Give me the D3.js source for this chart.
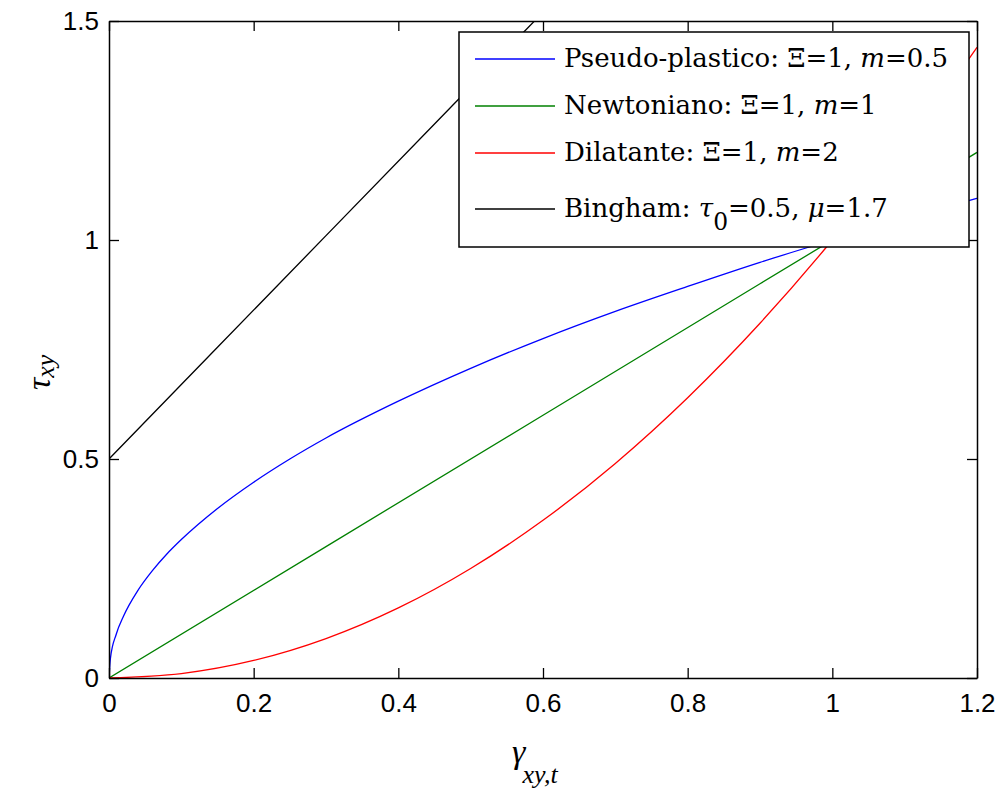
<!DOCTYPE html>
<html>
<head>
<meta charset="utf-8">
<script src="https://cdn.jsdelivr.net/npm/d3@7"></script>
<style>
  body { margin: 0; background: #fff; }
  svg { display: block; }
  .tick-label { font-family: "Liberation Sans", Arial, sans-serif; font-size: 26px; fill: #000; }
  .legend-text { font-family: "DejaVu Serif", "Liberation Serif", serif; font-size: 22px; fill: #000; }
  .axis-title { font-family: "Liberation Serif", "DejaVu Serif", serif; font-style: italic; fill: #000; }
</style>
</head>
<body>
<div id="chart"></div>
<script>
// strain rate samples (x) and stress (y)
const pseudoX = [0, 0.002, 0.01, 0.02, 0.04, 0.06, 0.08, 0.1, 0.15, 0.2, 0.25, 0.3, 0.4, 0.5, 0.6, 0.7, 0.8, 0.9, 1.0, 1.1, 1.2];
const pseudoY = [0, 0.045, 0.1, 0.141, 0.2, 0.245, 0.283, 0.316, 0.387, 0.447, 0.5, 0.548, 0.632, 0.707, 0.775, 0.837, 0.894, 0.949, 1.0, 1.049, 1.095];

const newtonX = [0, 0.6, 1.2];
const newtonY = [0, 0.6, 1.2];

const dilatX = [0, 0.1, 0.2, 0.3, 0.4, 0.5, 0.6, 0.7, 0.8, 0.9, 1.0, 1.1, 1.2];
const dilatY = [0, 0.01, 0.04, 0.09, 0.16, 0.25, 0.36, 0.49, 0.64, 0.81, 1.0, 1.21, 1.44];

const binghamX = [0, 0.3, 0.6, 1.2];
const binghamY = [0.5, 1.01, 1.52, 2.54];

const xTicks = [0, 0.2, 0.4, 0.6, 0.8, 1, 1.2];
const yTicks = [0, 0.5, 1, 1.5];

const seriesColors = ['#0000ff', '#008000', '#ff0000', '#000000'];

const width = 999, height = 791;
const margins = { left: 109, right: 22, top: 21, bottom: 113 };

const svg = d3.select('#chart')
  .append('svg')
    .attr('width', width)
    .attr('height', height);

const xScale = d3.scaleLinear()
  .domain([0, 1.2])
  .range([margins.left, width - margins.right]);

const yScale = d3.scaleLinear()
  .domain([0, 1.5])
  .range([height - margins.bottom, margins.top]);

const x0 = xScale(0), x1 = xScale(1.2), y0 = yScale(0), y1 = yScale(1.5);

svg.append('clipPath')
    .attr('id', 'plot-clip')
  .append('rect')
    .attr('x', x0)
    .attr('y', y1)
    .attr('width', x1 - x0)
    .attr('height', y0 - y1);

// curves
const series = [
  { xs: pseudoX, ys: pseudoY },
  { xs: newtonX, ys: newtonY },
  { xs: dilatX, ys: dilatY },
  { xs: binghamX, ys: binghamY },
];

const line = d3.line()
  .x(d => xScale(d[0]))
  .y(d => yScale(d[1]))
  .curve(d3.curveMonotoneX);

const plot = svg.append('g').attr('clip-path', 'url(#plot-clip)');

plot.selectAll('.curve')
    .data(series)
  .enter()
  .append('path')
    .attr('class', 'curve')
    .attr('fill', 'none')
    .attr('stroke', (d, i) => seriesColors[i])
    .attr('stroke-width', 1.3)
    .attr('d', d => line(d.xs.map((x, j) => [x, d.ys[j]])));

// axes box with inward ticks on all four sides (matlab style)
const tickLen = 10;

svg.append('g')
    .attr('transform', 'translate(0,' + y0 + ')')
    .call(d3.axisBottom(xScale).tickValues(xTicks).tickSizeInner(-tickLen).tickSizeOuter(0).tickPadding(16).tickFormat(d3.format('')))
    .call(g => g.selectAll('text').attr('class', 'tick-label').attr('font-size', null).attr('font-family', null));

svg.append('g')
    .attr('transform', 'translate(0,' + y1 + ')')
    .call(d3.axisTop(xScale).tickValues(xTicks).tickSizeInner(-tickLen).tickSizeOuter(0).tickFormat(''));

svg.append('g')
    .attr('transform', 'translate(' + x0 + ',0)')
    .call(d3.axisLeft(yScale).tickValues(yTicks).tickSizeInner(-tickLen).tickSizeOuter(0).tickPadding(10).tickFormat(d3.format('')))
    .call(g => g.selectAll('text').attr('class', 'tick-label').attr('font-size', null).attr('font-family', null));

svg.append('g')
    .attr('transform', 'translate(' + x1 + ',0)')
    .call(d3.axisRight(yScale).tickValues(yTicks).tickSizeInner(-tickLen).tickSizeOuter(0).tickFormat(''));

svg.selectAll('.domain').attr('stroke', '#000').attr('stroke-width', 1.5);
svg.selectAll('.tick line').attr('stroke', '#000').attr('stroke-width', 1.3);

// axis titles
const xt = svg.append('text')
    .attr('class', 'axis-title')
    .attr('x', 512)
    .attr('y', 763);
xt.append('tspan').attr('font-size', 34).text('γ');
xt.append('tspan').attr('font-size', 26).attr('dx', -3).attr('dy', 20).text('xy,t');

const yt = svg.append('text')
    .attr('class', 'axis-title')
    .attr('transform', 'translate(50,390) rotate(-90)');
yt.append('tspan').attr('font-size', 34).text('τ');
yt.append('tspan').attr('font-size', 26).attr('dy', 4).text('xy');

// legend
const legendX = 459, legendY = 32, legendW = 510, legendH = 215;

const legend = svg.append('g')
    .attr('class', 'chart__legend');

legend.append('rect')
    .attr('x', legendX)
    .attr('y', legendY)
    .attr('width', legendW)
    .attr('height', legendH)
    .attr('fill', '#fff')
    .attr('stroke', '#000')
    .attr('stroke-width', 1.5);

const legendRows = [59, 106, 153, 209];
const legendLabels = [
  [['Pseudo-plastico: Ξ=1, ', null], ['m', 'italic'], ['=0.5', null]],
  [['Newtoniano: Ξ=1, ', null], ['m', 'italic'], ['=1', null]],
  [['Dilatante: Ξ=1, ', null], ['m', 'italic'], ['=2', null]],
  [['Bingham: ', null], ['τ', 'italic'], ['0', 'sub'], ['=0.5, ', 'unsub'], ['μ', 'italic'], ['=1.7', null]],
];

const texts = [];
legendRows.forEach((ry, i) => {
  legend.append('line')
      .attr('x1', 475)
      .attr('x2', 555)
      .attr('y1', ry)
      .attr('y2', ry)
      .attr('stroke', seriesColors[i])
      .attr('stroke-width', 1.3);

  const t = legend.append('text')
      .attr('class', 'legend-text')
      .attr('x', 564)
      .attr('y', ry + 8);

  legendLabels[i].forEach(([s, kind]) => {
    const sp = t.append('tspan').text(s);
    if (kind === 'italic') sp.attr('font-style', 'italic');
    if (kind === 'sub') sp.attr('dy', 13).attr('font-size', '0.9em');
    if (kind === 'unsub') sp.attr('dy', -13);
  });
  texts.push(t);
});

// fit the legend font so the first entry spans ~389px like the original
const w0 = texts[0].node().getComputedTextLength();
const fs = Math.min(26, 22 * 389 / w0);
texts.forEach(t => t.style('font-size', fs + 'px'));
</script>
</body>
</html>
